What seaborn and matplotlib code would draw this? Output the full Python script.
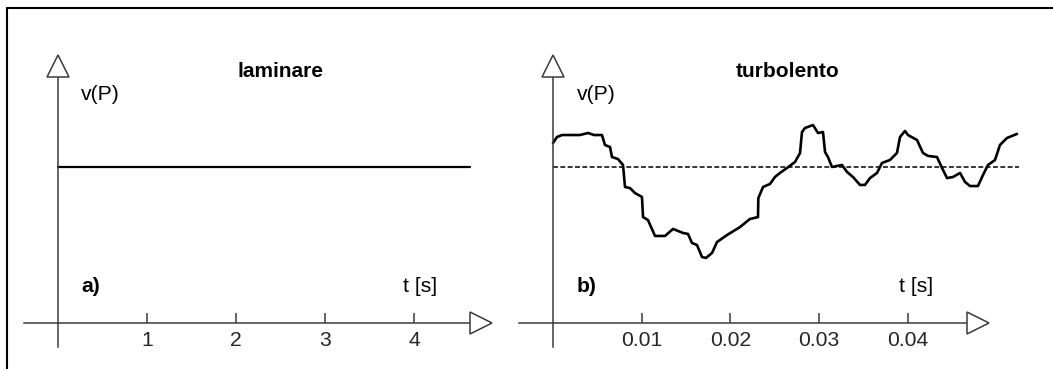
import numpy as np
import matplotlib
matplotlib.use("Agg")
import matplotlib.pyplot as plt
from matplotlib.lines import Line2D
import seaborn as sns

# ---------------- data ----------------
# a) laminar flow: constant velocity
t_lam = [0.0, 4.63]
v_lam = [1.0, 1.0]
ticks_a = [1, 2, 3, 4]
ticklabels_a = ["1", "2", "3", "4"]

# b) turbulent flow: fluctuating velocity around the mean (mean = 1.0)
t_turb = [0.0, 0.00045, 0.00101, 0.00304, 0.00395, 0.00462, 0.00552, 0.00586,
          0.00643, 0.00665, 0.00733, 0.00789, 0.00812, 0.00868, 0.00924, 0.01003,
          0.01015, 0.01071, 0.01150, 0.01263, 0.01353, 0.01466, 0.01522, 0.01567,
          0.01623, 0.01680, 0.01725, 0.01793, 0.01849, 0.01962, 0.02108, 0.02221,
          0.02311, 0.02315, 0.02368, 0.02446, 0.02503, 0.02559, 0.02638, 0.02728,
          0.02785, 0.02807, 0.02841, 0.02931, 0.02988, 0.03044, 0.03067, 0.03100,
          0.03145, 0.03258, 0.03315, 0.03382, 0.03461, 0.03517, 0.03574, 0.03653,
          0.03709, 0.03799, 0.03878, 0.03912, 0.03968, 0.04002, 0.04104, 0.04171,
          0.04228, 0.04329, 0.04386, 0.04442, 0.04510, 0.04589, 0.04645, 0.04701,
          0.04791, 0.04848, 0.04904, 0.04983, 0.05039, 0.05118, 0.05231]
v_turb = [1.154, 1.192, 1.205, 1.205, 1.218, 1.205, 1.205, 1.141,
          1.128, 1.064, 1.051, 1.013, 0.872, 0.865, 0.833, 0.808,
          0.679, 0.660, 0.558, 0.558, 0.603, 0.577, 0.571, 0.513,
          0.500, 0.423, 0.417, 0.449, 0.519, 0.564, 0.615, 0.667,
          0.679, 0.801, 0.872, 0.891, 0.936, 0.962, 0.994, 1.032,
          1.090, 1.224, 1.250, 1.269, 1.218, 1.224, 1.096, 1.064,
          1.000, 1.013, 0.968, 0.936, 0.885, 0.885, 0.929, 0.962,
          1.026, 1.045, 1.090, 1.192, 1.231, 1.205, 1.173, 1.090,
          1.071, 1.064, 0.994, 0.929, 0.936, 0.962, 0.904, 0.878,
          0.878, 0.949, 1.013, 1.045, 1.141, 1.186, 1.212]
t_mean = [0.0, 0.0525]
v_mean = [1.0, 1.0]
ticks_b = [0.01, 0.02, 0.03, 0.04]
ticklabels_b = ["0.01", "0.02", "0.03", "0.04"]

# ---------------- style ----------------
sns.set_theme(style="white")
plt.rcParams["font.family"] = ["Liberation Sans", "DejaVu Sans"]

W, H = 1053, 369
fig = plt.figure(figsize=(W / 100, H / 100), dpi=100)
fig.patch.set_facecolor("white")

Y0, SY = 323.0, 156.0        # pixel row of v=0, pixels per unit of v
AX_COL = "#3a3a3a"
FS = 15.2


def make_panel(px_left, px_right, x0, sx, x_start_px, x_arrow_px, ticks, labels):
    ax = fig.add_axes([px_left / W, 0, (px_right - px_left) / W, 1])
    ax.set_xlim((px_left - x0) / sx, (px_right - x0) / sx)
    ax.set_ylim((Y0 - H) / SY, Y0 / SY)
    ax.patch.set_alpha(0)
    for s in ["top", "right"]:
        ax.spines[s].set_visible(False)
    ax.spines["bottom"].set_position(("data", 0))
    ax.spines["left"].set_position(("data", 0))
    for s in ["bottom", "left"]:
        ax.spines[s].set_color(AX_COL)
        ax.spines[s].set_linewidth(1.1)
    ax.spines["bottom"].set_bounds((x_start_px - x0) / sx, (x_arrow_px - x0) / sx)
    ax.spines["left"].set_bounds((Y0 - 347) / SY, (Y0 - 77) / SY)
    ax.set_xticks(ticks)
    ax.set_xticklabels(labels)
    ax.set_yticks([])
    ax.tick_params(axis="x", direction="in", length=7.2, width=1.1, color=AX_COL,
                   labelsize=FS, pad=6, bottom=True)
    # open arrow heads
    ax.plot([0], [(Y0 - 65.5) / SY], marker="^", ms=16.3, mfc="white",
            mec=AX_COL, mew=1.1, clip_on=False, zorder=5)
    ax.plot([(x_arrow_px + 12 - x0) / sx], [0], marker=">", ms=16.3, mfc="white",
            mec=AX_COL, mew=1.1, clip_on=False, zorder=5)
    return ax


def px(ax_x0, sx, xp, yp):
    return (xp - ax_x0) / sx, (Y0 - yp) / SY


# panel a
X0A, SXA = 58.0, 89.0
axa = make_panel(0, 526, X0A, SXA, 24, 469, ticks_a, ticklabels_a)
sns.lineplot(x=t_lam, y=v_lam, ax=axa, color="black", lw=1.6, sort=False,
             estimator=None)
axa.text(*px(X0A, SXA, 281, 77), "laminare", fontsize=15, fontweight="bold",
         ha="center", va="baseline", color="black")
axa.text(*px(X0A, SXA, 81, 100), "v(P)", fontsize=FS, ha="left", va="baseline",
         color="black")
axa.text(*px(X0A, SXA, 81, 292), "a)", fontsize=FS, fontweight="bold",
         ha="left", va="baseline", color="black")
axa.text(*px(X0A, SXA, 403, 292), "t [s]", fontsize=FS, ha="left",
         va="baseline", color="black")

# panel b
X0B, SXB = 553.0, 8870.0
axb = make_panel(526, 1053, X0B, SXB, 519, 966, ticks_b, ticklabels_b)
sns.lineplot(x=t_mean, y=v_mean, ax=axb, color="black", lw=1.1, sort=False,
             estimator=None, dashes=False)
axb.lines[-1].set_dashes((3.2, 1.6))
sns.lineplot(x=t_turb, y=v_turb, ax=axb, color="black", lw=1.9, sort=False,
             estimator=None)
axb.text(*px(X0B, SXB, 788, 77), "turbolento", fontsize=15, fontweight="bold",
         ha="center", va="baseline", color="black")
axb.text(*px(X0B, SXB, 577, 100), "v(P)", fontsize=FS, ha="left", va="baseline",
         color="black")
axb.text(*px(X0B, SXB, 577, 292), "b)", fontsize=FS, fontweight="bold",
         ha="left", va="baseline", color="black")
axb.text(*px(X0B, SXB, 899, 292), "t [s]", fontsize=FS, ha="left",
         va="baseline", color="black")

# outer frame (top and left edges)
fig.add_artist(Line2D([7 / W, 1.0], [1 - 8 / H, 1 - 8 / H], color="black",
                      lw=1.5, transform=fig.transFigure))
fig.add_artist(Line2D([7 / W, 7 / W], [1 - 8 / H, 0.0], color="black",
                      lw=1.5, transform=fig.transFigure))

fig.savefig("out.png", dpi=100, facecolor="white")
